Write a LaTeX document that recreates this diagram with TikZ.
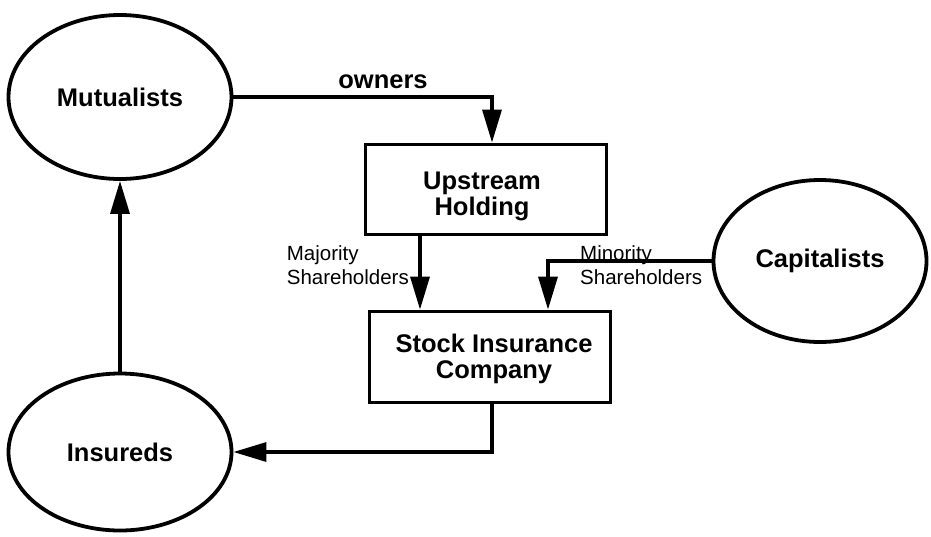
\documentclass[tikz,border=0pt]{standalone}
\usepackage{fontspec}
\setmainfont{Liberation Sans}
\usetikzlibrary{arrows.meta,shapes.geometric}
\begin{document}
\begin{tikzpicture}[x=1pt,y=-1pt,
  ell/.style={draw,line width=3.8pt,ellipse,inner sep=0pt,font=\fontsize{25.5}{27}\selectfont\bfseries},
  boxn/.style={draw,line width=3.8pt,rectangle,inner sep=0pt},
  btxt/.style={align=center,inner sep=0pt,font=\fontsize{25.5}{26}\selectfont\bfseries},
  arr/.style={line width=3.4pt,-{Triangle[length=33pt,width=19pt]}},
  lbl/.style={font=\fontsize{20.5}{24}\selectfont,align=left,inner sep=0pt},
  blbl/.style={font=\fontsize{25.5}{27}\selectfont\bfseries,inner sep=0pt}]
\useasboundingbox (0,0) rectangle (931,536);
\node[ell,minimum width=223pt,minimum height=164pt] (mut) at (120,97) {Mutualists};
\node[ell,minimum width=223pt,minimum height=157pt] (ins) at (120,452) {Insureds};
\node[ell,minimum width=213pt,minimum height=162pt] (cap) at (820,261) {Capitalists};
\node[boxn,minimum width=241pt,minimum height=90pt] (up) at (486,189.5) {};
\node[btxt] (uptxt) at (482,196) {Upstream\\Holding};
\node[boxn,minimum width=241pt,minimum height=91pt] (st) at (490,357) {};
\node[btxt] (sttxt) at (494,359) {Stock Insurance\\Company};
\coordinate (ownx) at (492,0);
\coordinate (mjx) at (420,0);
\coordinate (mnx) at (548,0);
\coordinate (bend) at (492,450);
\draw[arr] (mut.east) -| (up.north -| ownx);
\draw[arr] (up.south -| mjx) -- (st.north -| mjx);
\draw[arr] (cap.west) -- (cap.west -| mnx) -- (st.north -| mnx);
\draw[arr] (st.south -| bend) |- (ins.east);
\draw[arr] (ins.north) -- (mut.south);
\node[blbl] (own) at (383,82) {owners};
\node[lbl,anchor=east] (maj) at (409,265) {Majority\\Shareholders};
\node[lbl,anchor=west] (min) at (580,265) {Minority\\Shareholders};
\end{tikzpicture}
\end{document}
